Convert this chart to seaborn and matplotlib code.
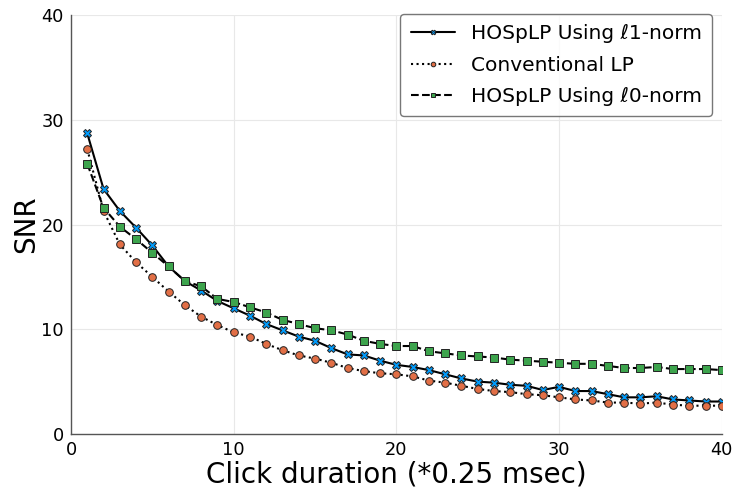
import numpy as np
import pandas as pd
import matplotlib
matplotlib.use("Agg")
import matplotlib.pyplot as plt
import seaborn as sns

durations = list(range(1, 41))

snr_l1 = [28.7, 23.4, 21.3, 19.7, 18.0, 16.0, 14.6, 13.7, 12.7, 12.0,
          11.3, 10.5, 9.9, 9.3, 8.9, 8.2, 7.6, 7.5, 7.0, 6.6,
          6.4, 6.1, 5.7, 5.3, 5.0, 4.9, 4.7, 4.6, 4.2, 4.5,
          4.1, 4.1, 3.8, 3.5, 3.5, 3.6, 3.3, 3.2, 3.1, 3.1]

snr_lp = [27.2, 21.3, 18.1, 16.4, 15.0, 13.6, 12.3, 11.2, 10.4, 9.7,
          9.3, 8.6, 8.0, 7.5, 7.2, 6.8, 6.3, 6.0, 5.8, 5.7,
          5.5, 5.1, 4.9, 4.6, 4.3, 4.1, 4.0, 3.8, 3.7, 3.5,
          3.3, 3.2, 3.0, 3.0, 2.9, 3.0, 2.8, 2.7, 2.7, 2.7]

snr_l0 = [25.8, 21.6, 19.8, 18.6, 17.3, 16.0, 14.6, 14.1, 12.9, 12.6,
          12.1, 11.6, 10.9, 10.5, 10.1, 9.9, 9.5, 8.9, 8.6, 8.4,
          8.4, 7.9, 7.7, 7.5, 7.4, 7.3, 7.1, 7.0, 6.9, 6.8,
          6.7, 6.7, 6.5, 6.3, 6.3, 6.4, 6.2, 6.2, 6.2, 6.1]

labels = ["HOSpLP Using \u21131-norm", "Conventional LP", "HOSpLP Using \u21130-norm"]

df = pd.DataFrame({
    "duration": durations * 3,
    "snr": snr_l1 + snr_lp + snr_l0,
    "method": [labels[0]] * 40 + [labels[1]] * 40 + [labels[2]] * 40,
})

sns.set_style("white")
plt.rcParams["font.family"] = ["DejaVu Sans"]
plt.rcParams["text.color"] = "black"
plt.rcParams["axes.labelcolor"] = "black"
plt.rcParams["xtick.color"] = "#555555"
plt.rcParams["ytick.color"] = "#555555"
plt.rcParams["xtick.labelcolor"] = "black"
plt.rcParams["ytick.labelcolor"] = "black"

fig = plt.figure(figsize=(7.35, 4.88), dpi=100)
ax = fig.add_axes([0.0966, 0.1107, 0.8854, 0.8583])

styles = {
    labels[0]: dict(linestyle="-", marker="X", markerfacecolor="#009AFA", markersize=5.5, lw=1.5),
    labels[1]: dict(linestyle=":", marker="o", markerfacecolor="#E26F46", markersize=5.5, lw=1.5),
    labels[2]: dict(linestyle="--", marker="s", markerfacecolor="#3DA44D", markersize=6, lw=1.5),
}

for name in labels:
    sns.lineplot(data=df[df["method"] == name], x="duration", y="snr", ax=ax,
                 color="black", markeredgecolor="#222222", markeredgewidth=0.7,
                 label=name, **styles[name])

ax.set_xlim(0, 40)
ax.set_ylim(0, 40)
ax.set_xticks([0, 10, 20, 30, 40])
ax.set_yticks([0, 10, 20, 30, 40])
ax.grid(True, color="#e8e8e8", lw=0.8)
ax.tick_params(axis="both", direction="out", length=3, width=0.8, labelsize=12.8, pad=2)
for side in ["top", "right"]:
    ax.spines[side].set_visible(False)
for side in ["left", "bottom"]:
    ax.spines[side].set_color("#555555")
    ax.spines[side].set_linewidth(1.0)

ax.set_xlabel("Click duration (*0.25 msec)", fontsize=20, labelpad=1)
ax.set_ylabel("SNR", fontsize=20, labelpad=1)

leg = ax.legend(loc="upper right", fontsize=14.5, frameon=True, handlelength=2.2,
                markerscale=0.6, borderpad=0.5, labelspacing=0.62,
                borderaxespad=0, bbox_to_anchor=(0.985, 1.002))
leg.get_frame().set_edgecolor("#555555")
leg.get_frame().set_linewidth(1.0)

fig.savefig("out.png", dpi=100)
